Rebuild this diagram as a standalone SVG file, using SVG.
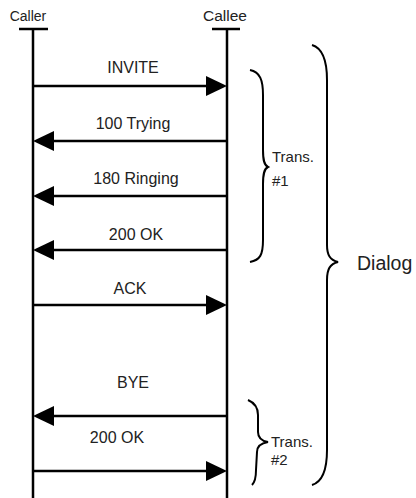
<svg xmlns="http://www.w3.org/2000/svg" width="416" height="498" viewBox="0 0 416 498">
<defs>
<style>
text{font-family:"Liberation Sans",Arial,sans-serif;fill:#222;}
.lbl{font-size:16px;text-anchor:middle;}
.hdr{font-size:14px;text-anchor:middle;}
.hdr2{font-size:15.5px;text-anchor:middle;}
.tr{font-size:15px;}
.dl{font-size:19.5px;}
.line{stroke:#000;stroke-width:2.5;fill:none;}
.msg{stroke:#000;stroke-width:2.5;fill:none;}
.brace{stroke:#000;stroke-width:2;fill:none;}
.head{fill:#000;}
</style>
</defs>
<rect width="416" height="498" fill="#fff"/>
<g id="caller">
<text class="hdr" x="28" y="21">Caller</text>
<line class="line" x1="19" y1="29" x2="48" y2="29"/>
<line class="line" x1="33" y1="29" x2="33" y2="498"/>
</g>
<g id="callee">
<text class="hdr2" x="225" y="21">Callee</text>
<line class="line" x1="212" y1="29" x2="240" y2="29"/>
<line class="line" x1="227" y1="29" x2="227" y2="498"/>
</g>
<g id="connectors">
<line class="msg" x1="33" y1="86" x2="210" y2="86"/><polygon class="head" points="227,86 206,76 206,96"/>
<text class="lbl" x="133" y="73">INVITE</text>
<line class="msg" x1="227" y1="141" x2="50" y2="141"/><polygon class="head" points="33,141 54,131 54,151"/>
<text class="lbl" x="133" y="129">100 Trying</text>
<line class="msg" x1="227" y1="196" x2="50" y2="196"/><polygon class="head" points="33,196 54,186 54,206"/>
<text class="lbl" x="136" y="184">180 Ringing</text>
<line class="msg" x1="227" y1="250" x2="50" y2="250"/><polygon class="head" points="33,250 54,240 54,260"/>
<text class="lbl" x="136" y="240">200 OK</text>
<line class="msg" x1="33" y1="305" x2="210" y2="305"/><polygon class="head" points="227,305 206,295 206,315"/>
<text class="lbl" x="130" y="294">ACK</text>
<line class="msg" x1="227" y1="416" x2="50" y2="416"/><polygon class="head" points="33,416 54,406 54,426"/>
<text class="lbl" x="133" y="388">BYE</text>
<line class="msg" x1="33" y1="471" x2="210" y2="471"/><polygon class="head" points="227,471 206,461 206,481"/>
<text class="lbl" x="117" y="443">200 OK</text>
</g>
<g id="trans1">
<path class="brace" d="M250,70 C260,72 263,80 263,95 L263,150 C263,160 264,165 268,167 C264,169 263,174 263,184 L263,240 C263,255 260,260 250,262"/>
<text class="tr" x="272" y="162">Trans.</text>
<text class="tr" x="272" y="186">#1</text>
</g>
<g id="dialog">
<path class="brace" d="M312,45 C322,48 327,60 327,80 L327,245 C327,255 330,260 338,262 C330,264 327,269 327,280 L327,450 C327,470 322,482 312,485"/>
<text class="dl" x="357" y="270">Dialog</text>
</g>
<g id="trans2">
<path class="brace" d="M248,400 C255,403 258,408 258,415 L258,432 C258,438 262,441 268,442 C262,443 257,446 257,452 L256,470 C256,478 255,482 252,485"/>
<text class="tr" x="271" y="447">Trans.</text>
<text class="tr" x="271" y="465">#2</text>
</g>
</svg>
